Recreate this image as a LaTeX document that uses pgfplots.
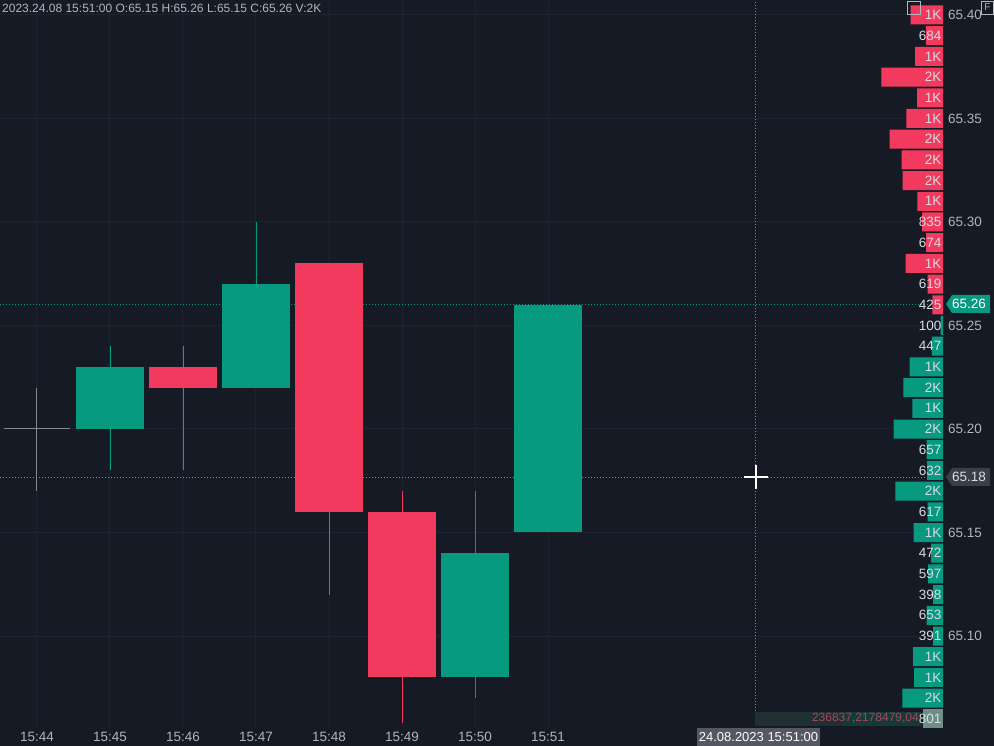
\documentclass[border=0pt]{standalone}
\usepackage{pgfplots}
\pgfplotsset{compat=1.18}
\usepackage{pgfplotstable}
\usepackage{fontspec}
\setmainfont{Liberation Sans}
\definecolor{bg}{HTML}{161A25}
\definecolor{gridc}{HTML}{1F2330}
\definecolor{cred}{HTML}{F23A5E}
\definecolor{cgreen}{HTML}{089981}
\definecolor{txt}{HTML}{B2B5BE}
\definecolor{vtxt}{HTML}{D9DCE3}
\definecolor{doji}{HTML}{868993}
\definecolor{tagg}{HTML}{3A3E49}
\definecolor{vgray}{HTML}{6E8F88}
\definecolor{sumteal}{HTML}{173A38}
\definecolor{summar}{HTML}{2E1F2A}
\definecolor{sumtxt}{HTML}{A4475B}

\pgfplotstableread{
y v lab
65.40 1293 1K
65.39 684 684
65.38 1120 1K
65.37 2464 2K
65.36 1040 1K
65.35 1464 1K
65.34 2132 2K
65.33 1653 2K
65.32 1613 2K
65.31 1025 1K
65.30 835 835
65.29 674 674
65.28 1493 1K
65.27 619 619
65.26 425 425
}\redvol
\pgfplotstableread{
y v lab
65.25 100 100
65.24 447 447
65.23 1333 1K
65.22 1584 2K
65.21 1225 1K
65.20 1973 2K
65.19 657 657
65.18 632 632
65.17 1906 2K
65.16 617 617
65.15 1173 1K
65.14 472 472
65.13 597 597
65.12 398 398
65.11 653 653
65.10 391 391
65.09 1200 1K
65.08 1160 1K
65.07 1624 2K
}\greenvol
\pgfplotstableread{
y v lab
65.06 801 801
}\grayvol

\begin{document}
\begin{tikzpicture}
\fill[bg] (0,0) rectangle (994pt,746pt);
\path[use as bounding box] (0,0) rectangle (994pt,746pt);

\begin{axis}[
  at={(0pt,18pt)}, anchor=south west,
  width=943pt, height=728pt, scale only axis,
  xmin=-0.5068, xmax=12.411,
  ymin=65.05556, ymax=65.40725,
  xtick={0,1,2,3,4,5,6,7},
  xticklabels={15:44,15:45,15:46,15:47,15:48,15:49,15:50,15:51},
  ytick={65.10,65.15,65.20,65.25,65.30,65.35,65.40},
  yticklabel pos=right,
  grid=major, major grid style={color=gridc, line width=1pt},
  axis line style={draw=none}, tick style={draw=none},
  tick label style={font=\fontsize{13.5}{15}\selectfont, text=txt},
  xticklabel style={anchor=center, yshift=-9pt},
  yticklabel style={anchor=west, inner sep=0pt, xshift=5pt,
    /pgf/number format/fixed, /pgf/number format/fixed zerofill,
    /pgf/number format/precision=2},
  /pgf/number format/assume math mode=true,
  clip=true,
]
% price lines
\addplot[cgreen, dotted, line width=1pt] coordinates {(-1,65.26015) (13,65.26015)};
\addplot[doji, dotted, line width=1pt] coordinates {(-1,65.17657) (13,65.17657)};
\addplot[doji, dotted, line width=1pt] coordinates {(9.849,65.0) (9.849,65.5)};

% 15:44 doji
\addplot[doji, line width=1pt] coordinates {(0,65.17) (0,65.22)};
\addplot[doji, line width=1pt] coordinates {(-0.452,65.20) (0.452,65.20)};
% 15:45 green O65.20 H65.24 L65.18 C65.23
\addplot[cgreen, line width=0.8pt] coordinates {(1,65.18) (1,65.24)};
\addplot[fill=cgreen, draw=none] coordinates {(0.541,65.20) (1.459,65.20) (1.459,65.23) (0.541,65.23)} -- cycle;
% 15:46 red O65.23 H65.24 L65.18 C65.22
\addplot[cred, line width=0.8pt] coordinates {(2,65.18) (2,65.24)};
\addplot[fill=cred, draw=none] coordinates {(1.541,65.22) (2.459,65.22) (2.459,65.23) (1.541,65.23)} -- cycle;
% 15:47 green O65.22 H65.30 L65.22 C65.27
\addplot[cgreen, line width=0.8pt] coordinates {(3,65.22) (3,65.30)};
\addplot[fill=cgreen, draw=none] coordinates {(2.541,65.22) (3.459,65.22) (3.459,65.27) (2.541,65.27)} -- cycle;
% 15:48 red O65.28 H65.28 L65.12 C65.16
\addplot[cred, line width=0.8pt] coordinates {(4,65.12) (4,65.28)};
\addplot[fill=cred, draw=none] coordinates {(3.541,65.16) (4.459,65.16) (4.459,65.28) (3.541,65.28)} -- cycle;
% 15:49 red O65.16 H65.17 L65.058 C65.08
\addplot[cred, line width=0.8pt] coordinates {(5,65.058) (5,65.17)};
\addplot[fill=cred, draw=none] coordinates {(4.541,65.08) (5.459,65.08) (5.459,65.16) (4.541,65.16)} -- cycle;
% 15:50 green O65.08 H65.17 L65.07 C65.14
\addplot[cgreen, line width=0.8pt] coordinates {(6,65.07) (6,65.17)};
\addplot[fill=cgreen, draw=none] coordinates {(5.541,65.08) (6.459,65.08) (6.459,65.14) (5.541,65.14)} -- cycle;
% 15:51 green O65.15 H65.26 L65.15 C65.26
\addplot[fill=cgreen, draw=none] coordinates {(6.541,65.15) (7.459,65.15) (7.459,65.26) (6.541,65.26)} -- cycle;
\end{axis}

% volume profile
\begin{axis}[
  at={(0pt,18pt)}, anchor=south west,
  width=943pt, height=728pt, scale only axis,
  x dir=reverse, xmin=0, xmax=37720,
  ymin=65.05556, ymax=65.40725,
  hide axis, clip=false,
]
\addplot[fill=sumteal, draw=none] coordinates {(880,65.0566) (4000,65.0566) (4000,65.0634) (880,65.0634)} -- cycle;
\addplot[fill=sumteal!60!summar, draw=none] coordinates {(4000,65.0566) (7520,65.0566) (7520,65.0634) (4000,65.0634)} -- cycle;
\addplot[xbar, bar width=19pt, bar shift=0pt, fill=cred, draw=none] table[x=v, y=y] {\redvol};
\addplot[xbar, bar width=19pt, bar shift=0pt, fill=cgreen, draw=none] table[x=v, y=y] {\greenvol};
\addplot[xbar, bar width=19pt, bar shift=0pt, fill=vgray, draw=none] table[x=v, y=y] {\grayvol};
\addplot[draw=none, mark=none, nodes near coords, point meta=explicit symbolic,
  nodes near coords style={anchor=east, inner sep=0pt, text=vtxt, font=\fontsize{13.5}{15}\selectfont}]
  table[x expr=60, y=y, meta=lab] {\redvol};
\addplot[draw=none, mark=none, nodes near coords, point meta=explicit symbolic,
  nodes near coords style={anchor=east, inner sep=0pt, text=vtxt, font=\fontsize{13.5}{15}\selectfont}]
  table[x expr=60, y=y, meta=lab] {\greenvol};
\addplot[draw=none, mark=none, nodes near coords, point meta=explicit symbolic,
  nodes near coords style={anchor=east, inner sep=0pt, text=vtxt, font=\fontsize{13.5}{15}\selectfont}]
  table[x expr=60, y=y, meta=lab] {\grayvol};
\end{axis}

% summary text
\node[anchor=east, inner sep=0pt, text=sumtxt, font=\fontsize{12}{14}\selectfont] at (919pt,28pt) {236837,2178479,04};

% header
\node[anchor=west, inner sep=0pt, text=txt, font=\fontsize{12}{14}\selectfont] at (2pt,738pt) {2023.24.08 15:51:00 O:65.15 H:65.26 L:65.15 C:65.26 V:2K};

% price tags
\fill[cgreen] (946pt,442pt) -- (952pt,451pt) -- (990pt,451pt) -- (990pt,433pt) -- (952pt,433pt) -- cycle;
\node[anchor=center, inner sep=0pt, text=white, font=\fontsize{13.5}{15}\selectfont] at (969pt,442pt) {65.26};
\fill[tagg] (946pt,269pt) -- (952pt,278pt) -- (990pt,278pt) -- (990pt,260pt) -- (952pt,260pt) -- cycle;
\node[anchor=center, inner sep=0pt, text=vtxt, font=\fontsize{13.5}{15}\selectfont] at (969pt,269pt) {65.18};

% crosshair
\draw[white, line width=2pt] (744pt,269pt) -- (768pt,269pt);
\draw[white, line width=2pt] (756pt,257pt) -- (756pt,281pt);

% bottom date label
\fill[tagg!85!white!90!tagg] (697pt,0pt) rectangle (820pt,18pt);
\node[anchor=center, inner sep=0pt, text=white, font=\fontsize{13}{15}\selectfont] at (758.5pt,9pt) {24.08.2023 15:51:00};

% icons
\draw[txt, line width=1pt] (907.5pt,731pt) rectangle (920.5pt,744pt);
\draw[txt, line width=0.8pt] (981.5pt,732pt) rectangle (993pt,745pt);
\node[anchor=center, inner sep=0pt, text=txt, font=\fontsize{10}{11}\selectfont] at (987.3pt,738.5pt) {F};
\end{tikzpicture}
\end{document}
